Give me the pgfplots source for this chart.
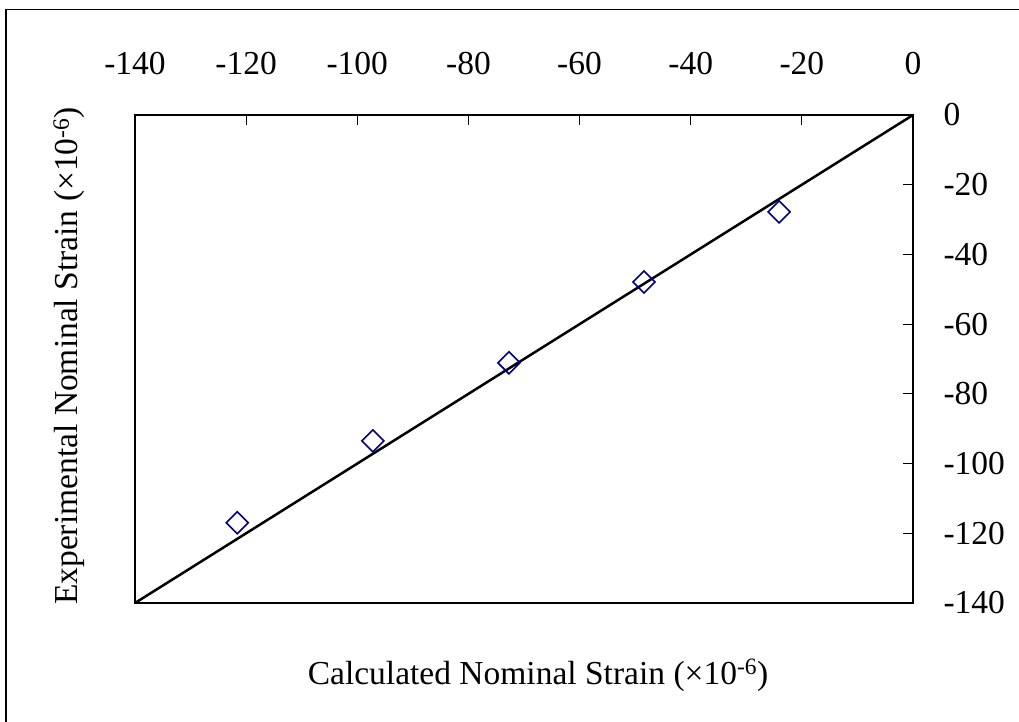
\documentclass[border=0pt]{standalone}
\usepackage{fontspec}
\setmainfont{Liberation Serif}
\usepackage{pgfplots}
\pgfplotsset{compat=1.18}

\definecolor{navymark}{RGB}{0,0,128}

\begin{document}
\begin{tikzpicture}[font=\fontsize{33.5}{40}\selectfont]
\useasboundingbox (-135pt,-118pt) rectangle (884pt,603pt);
\draw[line width=1.5pt] (-129pt,-130pt) -- (-129pt,593.5pt) -- (900pt,593.5pt);
\begin{axis}[
  at={(0,0)}, anchor=south west,
  scale only axis,
  width=778pt, height=488pt,
  font=\fontsize{33.5}{40}\selectfont,
  xmin=-140, xmax=0, ymin=-140, ymax=0,
  xtick={-140,-120,-100,-80,-60,-40,-20,0},
  xticklabels={-140,-120,-100,-80,-60,-40,-20,0},
  ytick={-140,-120,-100,-80,-60,-40,-20,0},
  yticklabels={-140,-120,-100,-80,-60,-40,-20,0},
  xtick pos=right, ytick pos=right,
  xticklabel pos=right, yticklabel pos=right,
  tick align=inside,
  major tick length=10pt,
  tick style={black, line width=1pt},
  axis line style={line width=1.2pt},
  xticklabel style={anchor=south, yshift=37pt},
  yticklabel style={anchor=west, xshift=27pt},
  xlabel={Calculated Nominal Strain (×10\textsuperscript{-6})},
  ylabel={Experimental Nominal Strain (×10\textsuperscript{-6})},
  xlabel style={at={(axis description cs:0.518,-0.166)}, anchor=base},
  ylabel style={at={(axis description cs:-0.0733,0.506)}, anchor=base},
  clip=false,
]
\addplot[black, line width=2.5pt, no marks] coordinates {(-140,-140) (0,0)};
\addplot[only marks, mark=square, mark size=7.8pt,
  mark options={rotate=45, draw=navymark, line width=1.6pt, fill=none}]
  coordinates {
  (-121.6,-117.0)
  (-97.2,-93.5)
  (-72.7,-71.1)
  (-48.4,-47.9)
  (-24.1,-27.8)
};
\end{axis}
\end{tikzpicture}
\end{document}
